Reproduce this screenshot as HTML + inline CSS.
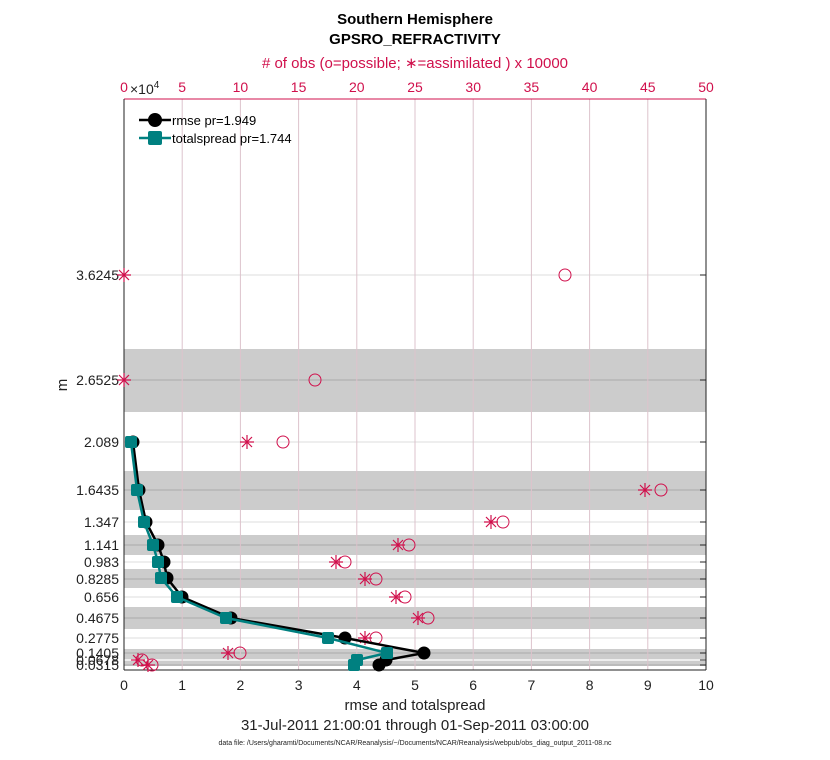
<!DOCTYPE html>
<html><head><meta charset="utf-8"><style>body{margin:0;background:#fff}svg{display:block}</style></head><body>
<svg width="830" height="760" xmlns="http://www.w3.org/2000/svg" font-family="Liberation Sans, sans-serif">
<defs>
<g id="st" stroke="#d0104c" stroke-width="1.2" fill="none"><path d="M-7,0H7M0,-7V7M-5,-5L5,5M-5,5L5,-5"/></g>
</defs>
<rect width="830" height="760" fill="#fff"/>
<g fill="#cccccc">
<rect x="124" y="349" width="582" height="63"/>
<rect x="124" y="471" width="582" height="39"/>
<rect x="124" y="535" width="582" height="20"/>
<rect x="124" y="569" width="582" height="19"/>
<rect x="124" y="607" width="582" height="22"/>
<rect x="124" y="649" width="582" height="10"/>
<rect x="124" y="661" width="582" height="5"/>
</g>
<g stroke="#dcdcdc" stroke-width="1">
<line x1="124" x2="706" y1="275" y2="275"/><line x1="124" x2="706" y1="380" y2="380" stroke="#aaa"/>
<line x1="124" x2="706" y1="442" y2="442"/><line x1="124" x2="706" y1="490" y2="490" stroke="#aaa"/>
<line x1="124" x2="706" y1="522" y2="522"/><line x1="124" x2="706" y1="545" y2="545" stroke="#aaa"/>
<line x1="124" x2="706" y1="562" y2="562"/><line x1="124" x2="706" y1="579" y2="579" stroke="#aaa"/>
<line x1="124" x2="706" y1="597" y2="597"/><line x1="124" x2="706" y1="618" y2="618" stroke="#aaa"/>
<line x1="124" x2="706" y1="638" y2="638"/><line x1="124" x2="706" y1="653" y2="653" stroke="#aaa"/>
<line x1="124" x2="706" y1="660" y2="660"/><line x1="124" x2="706" y1="665" y2="665" stroke="#aaa"/>
</g>
<g stroke="#ddc3cc" stroke-width="1">
<line x1="182.2" x2="182.2" y1="99" y2="670"/><line x1="240.4" x2="240.4" y1="99" y2="670"/><line x1="298.6" x2="298.6" y1="99" y2="670"/><line x1="356.8" x2="356.8" y1="99" y2="670"/><line x1="415" x2="415" y1="99" y2="670"/><line x1="473.2" x2="473.2" y1="99" y2="670"/><line x1="531.4" x2="531.4" y1="99" y2="670"/><line x1="589.6" x2="589.6" y1="99" y2="670"/><line x1="647.8" x2="647.8" y1="99" y2="670"/>
</g>
<line x1="124" x2="706" y1="99" y2="99" stroke="#d0104c"/>
<line x1="124" x2="706" y1="670" y2="670" stroke="#222"/>
<line x1="124" x2="124" y1="99" y2="670" stroke="#222"/>
<line x1="706" x2="706" y1="99" y2="670" stroke="#222"/>
<g stroke="#222">
<line x1="700" x2="706" y1="275" y2="275"/><line x1="700" x2="706" y1="380" y2="380"/><line x1="700" x2="706" y1="442" y2="442"/><line x1="700" x2="706" y1="490" y2="490"/><line x1="700" x2="706" y1="522" y2="522"/><line x1="700" x2="706" y1="545" y2="545"/><line x1="700" x2="706" y1="562" y2="562"/><line x1="700" x2="706" y1="579" y2="579"/><line x1="700" x2="706" y1="597" y2="597"/><line x1="700" x2="706" y1="618" y2="618"/><line x1="700" x2="706" y1="638" y2="638"/><line x1="700" x2="706" y1="653" y2="653"/><line x1="700" x2="706" y1="660" y2="660"/><line x1="700" x2="706" y1="665" y2="665"/>
</g>
<g font-size="14" fill="#222" text-anchor="end">
<text x="119" y="280">3.6245</text><text x="119" y="385">2.6525</text><text x="119" y="447">2.089</text><text x="119" y="495">1.6435</text><text x="119" y="527">1.347</text><text x="119" y="550">1.141</text><text x="119" y="567">0.983</text><text x="119" y="584">0.8285</text><text x="119" y="602">0.656</text><text x="119" y="623">0.4675</text><text x="119" y="643">0.2775</text><text x="119" y="658">0.1405</text><text x="119" y="665">0.0678</text><text x="119" y="670">0.0315</text>
</g>
<g font-size="14" fill="#222" text-anchor="middle">
<text x="124" y="690">0</text><text x="182.2" y="690">1</text><text x="240.4" y="690">2</text><text x="298.6" y="690">3</text><text x="356.8" y="690">4</text><text x="415" y="690">5</text><text x="473.2" y="690">6</text><text x="531.4" y="690">7</text><text x="589.6" y="690">8</text><text x="647.8" y="690">9</text><text x="706" y="690">10</text>
</g>
<g font-size="14" fill="#d0104c" text-anchor="middle">
<text x="124" y="92">0</text><text x="182.2" y="92">5</text><text x="240.4" y="92">10</text><text x="298.6" y="92">15</text><text x="356.8" y="92">20</text><text x="415" y="92">25</text><text x="473.2" y="92">30</text><text x="531.4" y="92">35</text><text x="589.6" y="92">40</text><text x="647.8" y="92">45</text><text x="706" y="92">50</text>
<text x="415" y="68" font-size="15"># of obs (o=possible; ∗=assimilated ) x 10000</text>
</g>
<text x="130" y="94" font-size="14" fill="#222">×10<tspan font-size="10" dy="-6">4</tspan></text>
<g font-size="15" font-weight="bold" text-anchor="middle" fill="#000">
<text x="415" y="24">Southern Hemisphere</text><text x="415" y="44">GPSRO_REFRACTIVITY</text>
</g>
<g text-anchor="middle" fill="#222">
<text x="415" y="710" font-size="15">rmse and totalspread</text>
<text x="415" y="730" font-size="15">31-Jul-2011 21:00:01 through 01-Sep-2011 03:00:00</text>
<text x="415" y="745" font-size="7">data file: /Users/gharamti/Documents/NCAR/Reanalysis/~/Documents/NCAR/Reanalysis/webpub/obs_diag_output_2011-08.nc</text>
</g>
<text transform="translate(67,385) rotate(-90)" font-size="15" fill="#222" text-anchor="middle">m</text>
<g stroke="#d0104c" fill="none" stroke-width="1">
<circle cx="565" cy="275" r="6"/><circle cx="315" cy="380" r="6"/><circle cx="283" cy="442" r="6"/><circle cx="661" cy="490" r="6"/><circle cx="503" cy="522" r="6"/><circle cx="409" cy="545" r="6"/><circle cx="345" cy="562" r="6"/><circle cx="376" cy="579" r="6"/><circle cx="405" cy="597" r="6"/><circle cx="428" cy="618" r="6"/><circle cx="376" cy="638" r="6"/><circle cx="240" cy="653" r="6"/><circle cx="142" cy="660" r="6"/><circle cx="152" cy="665" r="6"/>
</g>
<use href="#st" x="124" y="275"/><use href="#st" x="124" y="380"/><use href="#st" x="247" y="442"/><use href="#st" x="645" y="490"/><use href="#st" x="491" y="522"/><use href="#st" x="398" y="545"/><use href="#st" x="336" y="562"/><use href="#st" x="365" y="579"/><use href="#st" x="396" y="597"/><use href="#st" x="418" y="618"/><use href="#st" x="365" y="638"/><use href="#st" x="228" y="653"/><use href="#st" x="138" y="660"/><use href="#st" x="148" y="665"/>
<polyline fill="none" stroke="#000" stroke-width="2.5" points="133,442 139,490 146,522 158,545 164,562 167,578 182,597 231,618 345,638 424,653 386,660 379,665"/>
<g fill="#000">
<circle cx="133" cy="442" r="6.5"/><circle cx="139" cy="490" r="6.5"/><circle cx="146" cy="522" r="6.5"/><circle cx="158" cy="545" r="6.5"/><circle cx="164" cy="562" r="6.5"/><circle cx="167" cy="578" r="6.5"/><circle cx="182" cy="597" r="6.5"/><circle cx="231" cy="618" r="6.5"/><circle cx="345" cy="638" r="6.5"/><circle cx="424" cy="653" r="6.5"/><circle cx="386" cy="660" r="6.5"/><circle cx="379" cy="665" r="6.5"/>
</g>
<polyline fill="none" stroke="#008080" stroke-width="2.5" points="131,442 137,490 144,522 153,545 158,562 161,578 177,597 226,618 328,638 387,653 357,660 354,665"/>
<g fill="#008080">
<rect x="125" y="436" width="12" height="12" rx="2"/><rect x="131" y="484" width="12" height="12" rx="2"/><rect x="138" y="516" width="12" height="12" rx="2"/><rect x="147" y="539" width="12" height="12" rx="2"/><rect x="152" y="556" width="12" height="12" rx="2"/><rect x="155" y="572" width="12" height="12" rx="2"/><rect x="171" y="591" width="12" height="12" rx="2"/><rect x="220" y="612" width="12" height="12" rx="2"/><rect x="322" y="632" width="12" height="12" rx="2"/><rect x="381" y="647" width="12" height="12" rx="2"/><rect x="351" y="654" width="12" height="12" rx="2"/><rect x="348" y="659" width="12" height="12" rx="2"/>
</g>
<line x1="139" x2="171" y1="120" y2="120" stroke="#000" stroke-width="2.5"/><circle cx="155" cy="120" r="7" fill="#000"/>
<text x="172" y="125" font-size="13" fill="#000">rmse pr=1.949</text>
<line x1="139" x2="171" y1="138" y2="138" stroke="#008080" stroke-width="2.5"/><rect x="148" y="131" width="14" height="14" rx="2" fill="#008080"/>
<text x="172" y="143" font-size="13" fill="#000">totalspread pr=1.744</text>
</svg>
</body></html>
